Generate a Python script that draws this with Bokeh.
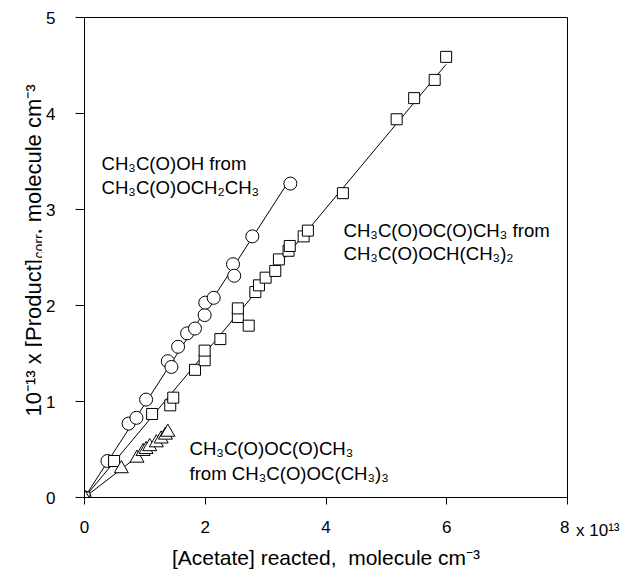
import numpy as np
from math import pi
from bokeh.plotting import figure
from bokeh.layouts import row
from bokeh.models import Label, Range1d, FixedTicker
from bokeh.embed import file_html
from bokeh.resources import INLINE

# ---- data (x in 1e13 molecule cm^-3, y in 1e13 molecule cm^-3) ----
circ_x = [0, 0.38, 0.73, 0.86, 1.02, 1.38, 1.44, 1.55, 1.70, 1.83, 1.99, 2.00, 2.14, 2.46, 2.48, 2.78, 3.41]
circ_y = [0, 0.38, 0.77, 0.83, 1.02, 1.42, 1.36, 1.57, 1.71, 1.76, 1.90, 2.03, 2.08, 2.43, 2.31, 2.72, 3.27]

sq_x = [0, 0.49, 1.12, 1.42, 1.47, 1.83, 1.99, 1.99, 2.25, 2.54, 2.54, 2.72, 2.83, 2.89, 3.00,
        3.16, 3.22, 3.38, 3.40, 3.63, 3.70, 4.28, 5.17, 5.46, 5.80, 5.99]
sq_y = [0, 0.38, 0.87, 0.96, 1.04, 1.33, 1.43, 1.53, 1.65, 1.88, 1.97, 1.79, 2.14, 2.21, 2.29,
        2.36, 2.48, 2.57, 2.62, 2.72, 2.78, 3.17, 3.94, 4.16, 4.35, 4.59]

tri_x = [0, 0.61, 0.87, 0.97, 1.02, 1.08, 1.19, 1.27, 1.34, 1.38]
tri_y = [0, 0.30, 0.41, 0.48, 0.50, 0.53, 0.57, 0.61, 0.65, 0.68]

x_ticks = [0, 2, 4, 6, 8]
y_ticks = [0, 1, 2, 3, 4, 5]

FONT = "Liberation Sans"
H = 571
LW = 42          # width of the left strip holding the y-axis title
RW = 66          # width of the right strip holding the "x 10^13" multiplier
ML, MR, MT, MB = 42, 2, 17, 74
MW = 635 - LW - RW

p = figure(width=MW, height=H, output_backend="svg", toolbar_location=None,
           x_range=Range1d(0, 8), y_range=Range1d(0, 5),
           min_border_left=ML, min_border_right=MR, min_border_top=MT, min_border_bottom=MB)
p.xgrid.visible = False
p.ygrid.visible = False
p.outline_line_color = "black"
p.outline_line_width = 1
p.outline_line_alpha = 1
p.background_fill_color = "white"
p.border_fill_color = "white"

p.xaxis.ticker = FixedTicker(ticks=x_ticks)
p.yaxis.ticker = FixedTicker(ticks=y_ticks)
for ax in (p.xaxis[0], p.yaxis[0]):
    ax.axis_line_color = "black"
    ax.major_tick_line_color = "black"
    ax.major_tick_in = 0
    ax.minor_tick_line_color = None
    ax.major_label_text_font = FONT
    ax.major_label_text_font_size = "17px"
    ax.major_label_text_color = "black"
p.xaxis.major_tick_out = 7
p.yaxis.major_tick_out = 9
p.xaxis.major_label_standoff = 16
p.yaxis.major_label_standoff = 20
p.xaxis.axis_label = "[Acetate] reacted,\u00a0 molecule cm\u207b\u00b3"
p.xaxis.axis_label_text_font = FONT
p.xaxis.axis_label_text_font_size = "21px"
p.xaxis.axis_label_text_font_style = "normal"
p.xaxis.axis_label_text_color = "black"
p.xaxis.axis_label_standoff = 10


def fit_line(xs, ys):
    xs = np.asarray(xs, float)
    ys = np.asarray(ys, float)
    a = (xs * ys).sum() / (xs * xs).sum()
    xx = np.array([0.0, xs.max()])
    return xx, a * xx


for xs, ys in ((circ_x, circ_y), (sq_x, sq_y), (tri_x, tri_y)):
    lx, ly = fit_line(xs, ys)
    p.line(lx, ly, line_color="black", line_width=1)

p.scatter(circ_x, circ_y, marker="circle", size=13, fill_color="white", line_color="black", line_width=1)
p.scatter(sq_x, sq_y, marker="square", size=11, fill_color="white", line_color="black", line_width=1)
p.scatter(tri_x, tri_y, marker="triangle", size=14, fill_color="white", line_color="black", line_width=1)

# pixel -> data helpers for placing annotation text inside the frame
CX0 = LW + ML
XS = (MW - ML - MR) / 8.0
YS = (H - MT - MB) / 5.0


def lab(fig, x, y, text, size="18.6px", angle=0.0):
    fig.add_layout(Label(x=x, y=y, text=text, text_font=FONT, text_font_size=size,
                         text_color="black", text_baseline="alphabetic", text_align="left",
                         angle=angle))


def plab(cx, cy, text, size="18.6px"):
    lab(p, (cx - CX0) / XS, (H - MB - cy) / YS, text, size)


plab(101, 163, "CH\u2083C(O)OH from")
plab(101, 187, "CH\u2083C(O)OCH\u2082CH\u2083")
plab(343, 230, "CH\u2083C(O)OC(O)CH\u2083 from")
plab(343, 253, "CH\u2083C(O)OCH(CH\u2083)\u2082")
plab(189, 448, "CH\u2083C(O)OC(O)CH\u2083")
plab(189, 473, "from CH\u2083C(O)OC(CH\u2083)\u2083")


def strip(width, with_xaxis=False):
    f = figure(width=width, height=H, output_backend="svg", toolbar_location=None,
               x_range=Range1d(0, width), y_range=Range1d(H - MB, MT),
               x_axis_location="below" if with_xaxis else None, y_axis_location=None,
               min_border_left=0, min_border_right=0, min_border_top=MT, min_border_bottom=MB)
    f.xgrid.visible = False
    f.ygrid.visible = False
    f.outline_line_color = None
    f.background_fill_color = "white"
    f.border_fill_color = "white"
    return f


# left strip: rotated y-axis title in pieces (subscript "corr"); data units = canvas pixels
left = strip(LW)
lab(left, 33, 416, "10\u207b\u00b9\u00b3 x [Product]", size="22px", angle=pi / 2)
lab(left, 38, 258, "corr", size="14px", angle=pi / 2)
lab(left, 33, 234, ", molecule cm\u207b\u00b3", size="22px", angle=pi / 2)

# right strip: "x 10^13" multiplier next to the last x tick, drawn as an axis title
right = strip(RW, with_xaxis=True)
rax = right.xaxis[0]
rax.ticker = FixedTicker(ticks=[])
rax.axis_line_color = None
rax.major_tick_line_color = None
rax.minor_tick_line_color = None
rax.major_tick_out = 0
rax.major_label_standoff = 0
rax.axis_label = "x 10\u00b9\u00b3\u00a0\u00a0"
rax.axis_label_text_font = FONT
rax.axis_label_text_font_size = "17px"
rax.axis_label_text_font_style = "normal"
rax.axis_label_text_color = "black"
rax.axis_label_standoff = 23

layout = row(left, p, right)
open("out.html", "w").write(file_html(layout, INLINE))
